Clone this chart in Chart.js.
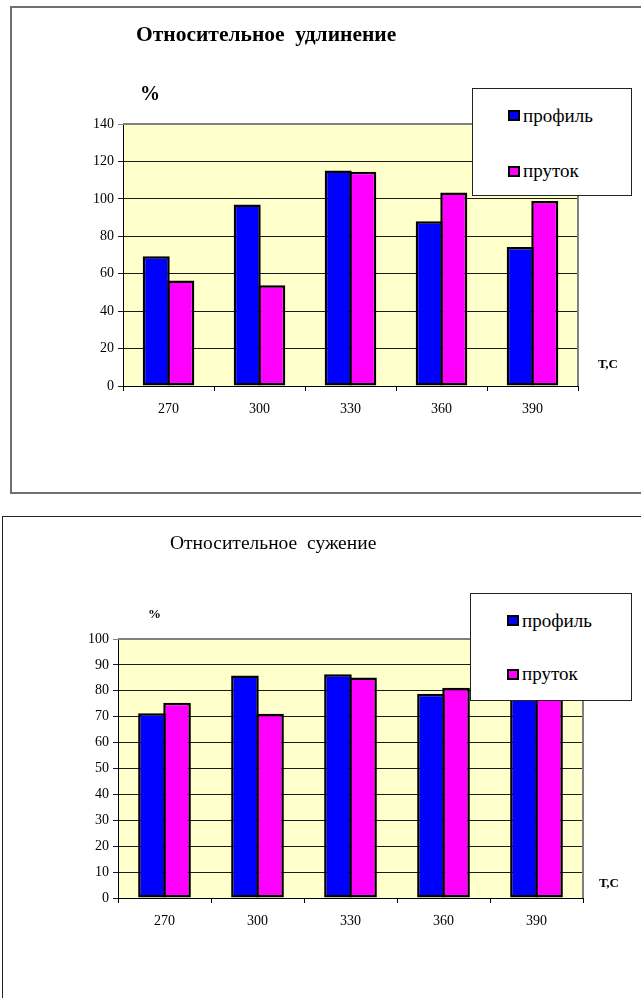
<!DOCTYPE html>
<html>
<head>
<meta charset="utf-8">
<script src="https://cdn.jsdelivr.net/npm/chart.js@4/dist/chart.umd.min.js"></script>
<style>
  html, body { margin: 0; padding: 0; background: #fff; width: 641px; height: 998px; overflow: hidden; }
  body { position: relative; font-family: "Liberation Serif", "Times New Roman", "DejaVu Serif", serif; color: #000; }
  .frame { position: absolute; box-sizing: border-box; background: #fff; }
  .abs { position: absolute; white-space: pre; line-height: 1; }
  canvas { position: absolute; left: 0; }
  .legend { position: absolute; box-sizing: border-box; border: 1px solid #222; background: #fff; z-index: 5; }
  .legend .item { position: absolute; white-space: nowrap; line-height: 1; font-size: 19px; }
  .legend .mark { position: absolute; width: 12px; height: 11px; box-sizing: border-box; border: 2px solid #000; }
</style>
</head>
<body>

<div class="frame" style="left:10px; top:6px; width:660px; height:488px; border:2px solid #707070;"></div>
<div class="frame" style="left:2px; top:516px; width:660px; height:520px; border:1px solid #222;"></div>

<canvas id="elong" width="641" height="500" style="top:0"></canvas>
<canvas id="narrow" width="641" height="498" style="top:500px"></canvas>

<div class="abs" style="left:136px; top:24px; font-size:21.5px; font-weight:bold;">Относительное  удлинение</div>
<div class="abs" style="left:140px; top:83px; font-size:20px; font-weight:bold;">%</div>
<div class="abs" style="left:598px; top:357px; font-size:13px; font-weight:bold;">Т,С</div>

<div class="abs" style="left:170px; top:533px; font-size:19.5px;">Относительное  сужение</div>
<div class="abs" style="left:148px; top:607px; font-size:13px; font-weight:bold;">%</div>
<div class="abs" style="left:599px; top:876px; font-size:13px; font-weight:bold;">Т,С</div>

<div class="legend" id="legend1" style="left:472px; top:88px; width:160px; height:108px;"></div>
<div class="legend" id="legend2" style="left:470px; top:593px; width:162px; height:108px;"></div>

<script>
// Temperatures, °C
const temperatures = ['270', '300', '330', '360', '390'];
const seriesNames = ['профиль', 'пруток'];
const seriesColors = ['#0000FF', '#FF00FF'];

// Relative elongation, %
const elongationProfile = [69.3, 97, 115.2, 88, 74.3];
const elongationBar = [56.4, 53.8, 114.5, 103.4, 98.8];
const elongationTicks = { max: 140, step: 20 };

// Relative reduction of area, %
const narrowingProfile = [71.3, 85.9, 86.4, 78.9, 81];
const narrowingBar = [75.4, 71.1, 85.1, 81.2, 80];
const narrowingTicks = { max: 100, step: 10 };

const FONT = { family: "'Liberation Serif', 'Times New Roman', serif", size: 14 };

// Pale yellow plot background plus grey top/right edges of the plot area
const plotFrame = {
  id: 'plotFrame',
  beforeDraw(chart) {
    const { ctx, chartArea: a } = chart;
    ctx.save();
    ctx.fillStyle = '#FFFFCC';
    ctx.fillRect(a.left, a.top, a.right - a.left, a.bottom - a.top);
    ctx.restore();
  },
  beforeDatasetsDraw(chart) {
    const { ctx, chartArea: a } = chart;
    ctx.save();
    ctx.strokeStyle = '#808080';
    ctx.lineWidth = 2;
    ctx.beginPath();
    ctx.moveTo(a.left, a.top);
    ctx.lineTo(a.right, a.top);
    ctx.lineTo(a.right, a.bottom);
    ctx.stroke();
    ctx.restore();
  }
};

function makeChart(id, profile, bar, ticks, padding) {
  const values = [profile, bar];
  return new Chart(document.getElementById(id), {
    type: 'bar',
    data: {
      labels: temperatures,
      datasets: seriesNames.map((name, i) => ({
        label: name,
        data: values[i],
        backgroundColor: seriesColors[i],
        borderColor: '#000',
        borderWidth: 2.5,
        borderSkipped: false,
        categoryPercentage: 0.54,
        barPercentage: 1.1
      }))
    },
    options: {
      responsive: false,
      animation: false,
      devicePixelRatio: 1,
      layout: { padding },
      plugins: { legend: { display: false }, tooltip: { enabled: false }, title: { display: false } },
      scales: {
        x: {
          afterFit(s) { s.height = 40; },
          grid: { drawOnChartArea: false, drawTicks: true, tickLength: 5, color: '#000', offset: true },
          border: { color: '#000', width: 1 },
          ticks: { font: FONT, color: '#000', padding: 10, maxRotation: 0 }
        },
        y: {
          min: 0,
          max: ticks.max,
          afterFit(s) { s.width = 40; },
          grid: {
            color: c => (c.tick && c.tick.value === ticks.max) ? '#808080' : '#1a1a1a',
            lineWidth: 1,
            tickLength: 5
          },
          border: { color: '#000', width: 1 },
          ticks: { stepSize: ticks.step, font: FONT, color: '#000', padding: 4 }
        }
      }
    },
    plugins: [plotFrame]
  });
}

const c1 = makeChart('elong', elongationProfile, elongationBar, elongationTicks,
  { left: 83, right: 63, top: 124, bottom: 74 });
const c2 = makeChart('narrow', narrowingProfile, narrowingBar, narrowingTicks,
  { left: 78, right: 58, top: 139, bottom: 60 });

// Legend boxes built from the chart datasets
function buildLegend(el, chart, rows) {
  chart.data.datasets.forEach((ds, i) => {
    const r = rows[i];
    const m = document.createElement('div');
    m.className = 'mark';
    m.style.left = r.mx + 'px';
    m.style.top = r.my + 'px';
    m.style.background = ds.backgroundColor;
    el.appendChild(m);
    const t = document.createElement('div');
    t.className = 'item';
    t.style.left = r.tx + 'px';
    t.style.top = r.ty + 'px';
    t.textContent = ds.label;
    el.appendChild(t);
  });
}
buildLegend(document.getElementById('legend1'), c1, [
  { mx: 35, my: 21, tx: 50, ty: 17 },
  { mx: 35, my: 77, tx: 50, ty: 72 }
]);
buildLegend(document.getElementById('legend2'), c2, [
  { mx: 36, my: 21, tx: 51, ty: 17 },
  { mx: 36, my: 75, tx: 51, ty: 70 }
]);
</script>
</body>
</html>
